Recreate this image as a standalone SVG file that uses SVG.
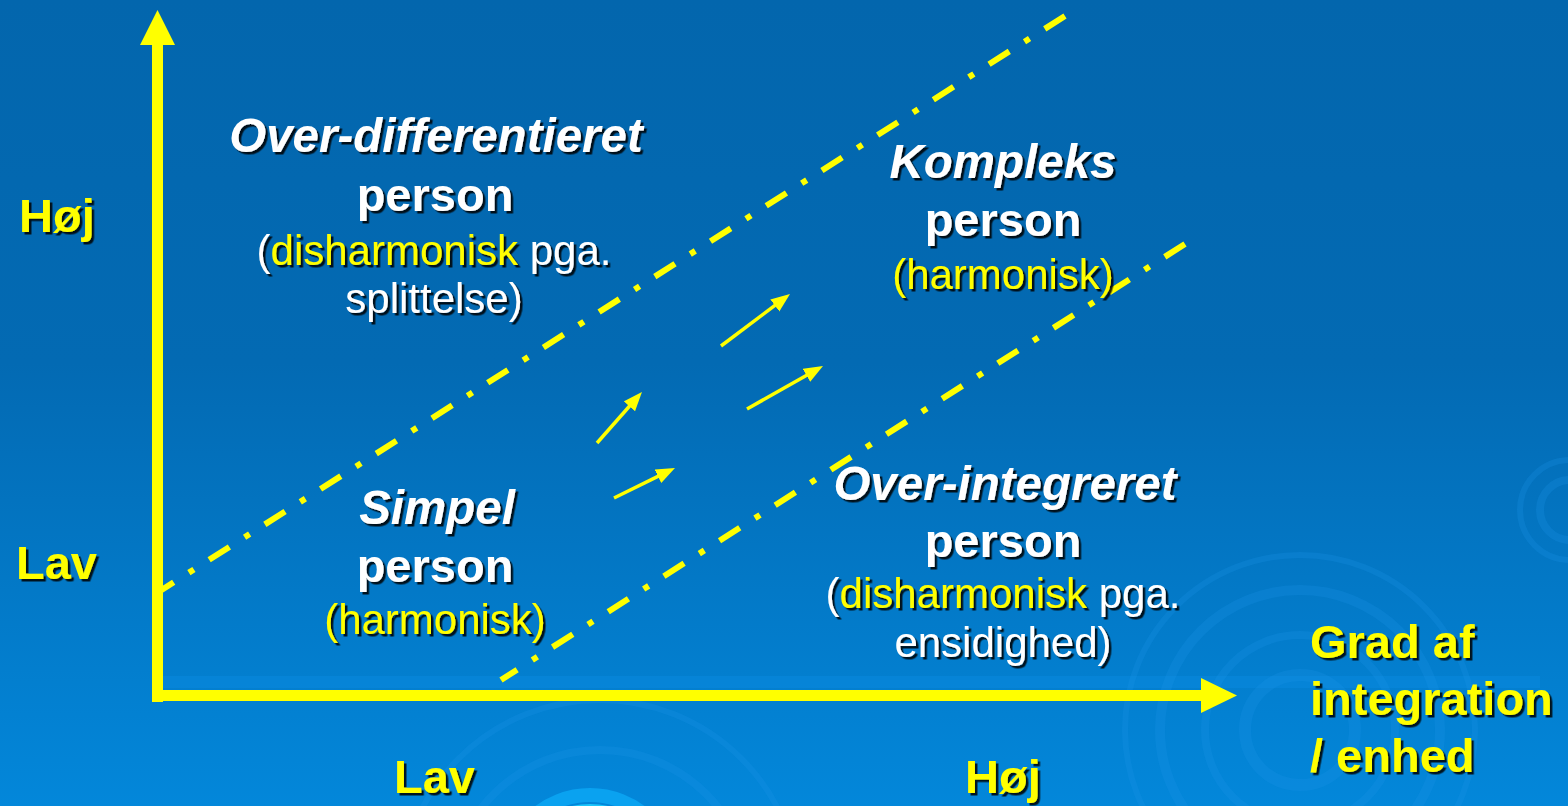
<svg xmlns="http://www.w3.org/2000/svg" width="1568" height="806" viewBox="0 0 1568 806">
<defs>
<linearGradient id="bg" x1="0" y1="0" x2="0" y2="1">
<stop offset="0" stop-color="#0366AD"/>
<stop offset="0.45" stop-color="#036AB3"/>
<stop offset="1" stop-color="#0387DA"/>
</linearGradient>
<filter id="sh" x="-10%" y="-20%" width="120%" height="150%">
<feDropShadow dx="2.5" dy="2.5" stdDeviation="0.6" flood-color="#000" flood-opacity="0.85"/>
</filter>
<marker id="ah" markerUnits="userSpaceOnUse" markerWidth="20" markerHeight="16" refX="13" refY="7.5" orient="auto">
<path d="M0,0 L19,7.5 L0,15 Z" fill="#FFFF00"/>
</marker>
<style>
.b{font-family:"Liberation Sans",Arial,sans-serif;font-weight:bold;font-size:47px;}
.bi{font-family:"Liberation Sans",Arial,sans-serif;font-weight:bold;font-style:italic;font-size:47.5px;}
.r{font-family:"Liberation Sans",Arial,sans-serif;font-size:42px;}
.w{fill:#FFFFFF;}
.y{fill:#FFFF00;}
.dd{fill:none;stroke:#FFFF00;stroke-width:6;stroke-dasharray:24 18 6 18;}
.sa{fill:none;stroke:#FFFF00;stroke-width:3.5;marker-end:url(#ah);}
.ring{fill:none;stroke:#1A95E6;stroke-opacity:0.25;}
</style>
</defs>
<rect width="1568" height="806" fill="url(#bg)"/>
<g id="background-decor">
<rect x="160" y="676" width="1380" height="12" fill="#0A8AE0" opacity="0.5"/>
<circle class="ring" cx="1300" cy="730" r="175" stroke-width="6"/>
<circle class="ring" cx="1300" cy="730" r="140" stroke-width="10"/>
<circle class="ring" cx="1300" cy="730" r="95" stroke-width="8"/>
<circle class="ring" cx="1300" cy="730" r="55" stroke-width="12"/>
<circle class="ring" cx="600" cy="900" r="200" stroke-width="6"/>
<circle class="ring" cx="600" cy="900" r="150" stroke-width="8"/>
<circle cx="590" cy="880" r="85" fill="none" stroke="#0AA2F0" stroke-width="14"/>
<circle cx="590" cy="880" r="72" fill="none" stroke="#1CC6FB" stroke-width="8"/>
<circle class="ring" cx="1570" cy="510" r="50" stroke-width="6"/>
<circle class="ring" cx="1570" cy="510" r="30" stroke-width="8"/>
</g>
<g id="connectors">
<rect x="152" y="44" width="11" height="658" fill="#FFFF00"/>
<polygon points="140,45 157.5,10 175,45" fill="#FFFF00"/>
<rect x="152" y="690" width="1050" height="11" fill="#FFFF00"/>
<polygon points="1201,678 1237,695.5 1201,713" fill="#FFFF00"/>
<line class="dd" x1="1065" y1="16" x2="160" y2="591"/>
<line class="dd" x1="1185" y1="244" x2="501" y2="680"/>
<line class="sa" x1="597" y1="443" x2="638" y2="396.5"/>
<line class="sa" x1="614" y1="498" x2="669.6" y2="470.6"/>
<line class="sa" x1="721" y1="346" x2="785.2" y2="297.6"/>
<line class="sa" x1="747" y1="409" x2="817.8" y2="368.9"/>
</g>
<g id="axis-labels" filter="url(#sh)">
<text class="b y" x="19" y="232">Høj</text>
<text class="b y" x="16" y="579">Lav</text>
<text class="b y" x="394" y="793">Lav</text>
<text class="b y" x="965" y="793">Høj</text>
<text class="b y" x="1310" y="658">Grad af</text>
<text class="b y" x="1310" y="715">integration</text>
<text class="b y" x="1310" y="772">/ enhed</text>
</g>
<g id="node-overdiff" filter="url(#sh)" text-anchor="middle">
<text class="bi w" x="436" y="152">Over-differentieret</text>
<text class="b w" x="435" y="211">person</text>
<text class="r w" x="434" y="265">(<tspan class="y">disharmonisk</tspan> pga.</text>
<text class="r w" x="434" y="313">splittelse)</text>
</g>
<g id="node-kompleks" filter="url(#sh)" text-anchor="middle">
<text class="bi w" x="1003" y="178">Kompleks</text>
<text class="b w" x="1003" y="236">person</text>
<text class="r y" x="1003" y="289">(harmonisk)</text>
</g>
<g id="node-simpel" filter="url(#sh)" text-anchor="middle">
<text class="bi w" x="437" y="524">Simpel</text>
<text class="b w" x="435" y="582">person</text>
<text class="r y" x="435" y="634">(harmonisk)</text>
</g>
<g id="node-overint" filter="url(#sh)" text-anchor="middle">
<text class="bi w" x="1005" y="500">Over-integreret</text>
<text class="b w" x="1003" y="557">person</text>
<text class="r w" x="1003" y="608">(<tspan class="y">disharmonisk</tspan> pga.</text>
<text class="r w" x="1003" y="657">ensidighed)</text>
</g>
</svg>
